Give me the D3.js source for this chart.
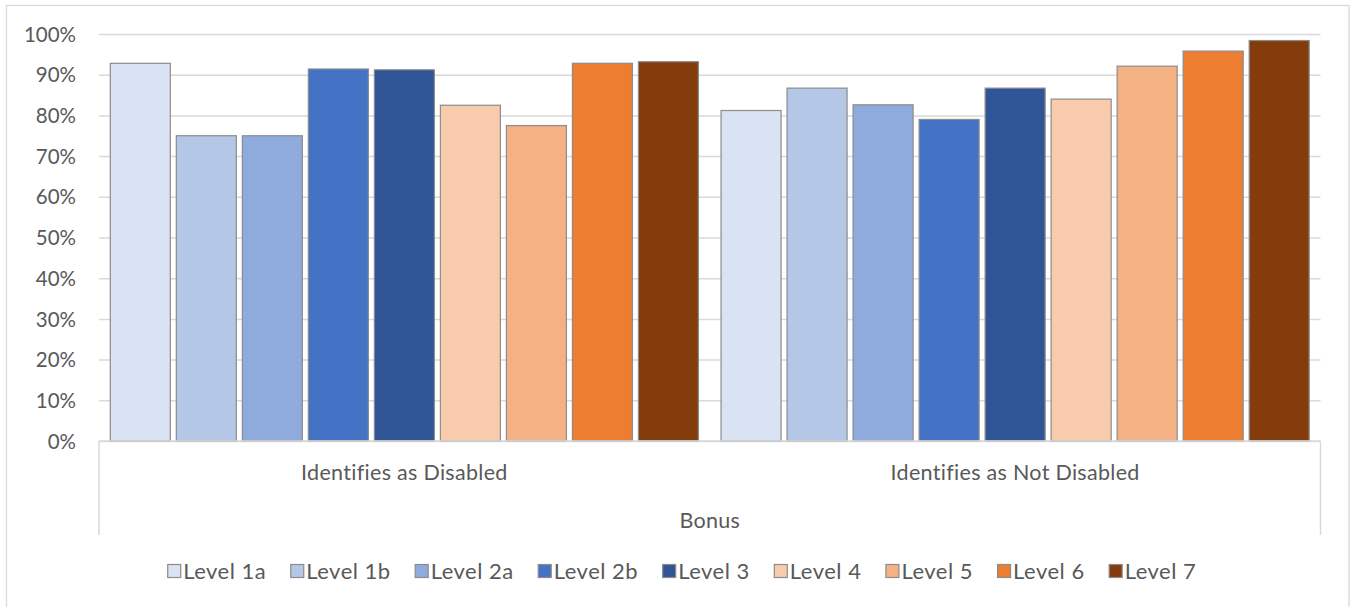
<!DOCTYPE html>
<html>
<head>
<meta charset="utf-8">
<script src="https://cdn.jsdelivr.net/npm/d3@7"></script>
<style>
  html, body { margin: 0; padding: 0; background: #fff; }
  svg { display: block; }
  text { font-family: Lato, "Open Sans", sans-serif; fill: #595959; }
</style>
</head>
<body>
<svg id="chart" width="1351" height="607"></svg>
<script>
// Share of respondents receiving a bonus, by level and disability status
const groups = ["Identifies as Disabled", "Identifies as Not Disabled"];
const levels = ["Level 1a", "Level 1b", "Level 2a", "Level 2b", "Level 3", "Level 4", "Level 5", "Level 6", "Level 7"];
const disabledValues    = [0.928, 0.750, 0.750, 0.914, 0.912, 0.825, 0.775, 0.928, 0.932];
const notDisabledValues = [0.812, 0.867, 0.826, 0.790, 0.867, 0.840, 0.921, 0.958, 0.984];
const levelColors = ["#DAE3F3", "#B4C7E7", "#8FAADC", "#4472C4", "#2F5597", "#F8CBAD", "#F4B183", "#ED7D31", "#843C0C"];
const yTicks = [0, 0.1, 0.2, 0.3, 0.4, 0.5, 0.6, 0.7, 0.8, 0.9, 1.0];
const axisTitle = "Bonus";

const seriesByGroup = [disabledValues, notDisabledValues];

const svg = d3.select("#chart");
const plot = { left: 99, right: 1320.5, top: 34, bottom: 441 };

// outer chart frame
svg.append("rect")
  .attr("x", 6.5).attr("y", 5.5)
  .attr("width", 1342.5).attr("height", 610)
  .attr("fill", "#fff").attr("stroke", "#d9d9d9").attr("stroke-width", 1.3);

const y = d3.scaleLinear().domain([0, 1]).range([plot.bottom, plot.top]);
const x0 = d3.scaleBand().domain(groups).range([plot.left, plot.right]).padding(0);
const inset = x0.bandwidth() * 0.0185;
const x1 = d3.scaleBand().domain(levels)
  .range([inset, x0.bandwidth() - inset])
  .paddingInner(0.0909).paddingOuter(0);

// gridlines and tick labels
const yAxis = d3.axisLeft(y).tickValues(yTicks)
  .tickSize(-(plot.right - plot.left)).tickPadding(23)
  .tickFormat(d3.format(".0%"));
const gy = svg.append("g").attr("transform", `translate(${plot.left},0)`).call(yAxis);
gy.select(".domain").remove();
gy.selectAll(".tick line").attr("stroke", "#d9d9d9").attr("stroke-width", 1.5);
gy.selectAll(".tick text")
  .attr("font-size", 20.5).attr("fill", "#595959")
  .attr("dy", "0.35em")
  .style("font-family", "Lato, sans-serif");

// bars
const gGroups = svg.append("g").selectAll("g").data(groups).join("g")
  .attr("transform", d => `translate(${x0(d)},0)`);
gGroups.selectAll("rect")
  .data((g, gi) => levels.map((lv, i) => ({ level: lv, value: seriesByGroup[gi][i], color: levelColors[i] })))
  .join("rect")
  .attr("x", d => x1(d.level))
  .attr("width", x1.bandwidth())
  .attr("y", d => y(d.value))
  .attr("height", d => y(0) - y(d.value))
  .attr("fill", d => d.color)
  .attr("stroke", "#8c8c8c").attr("stroke-width", 1.2);

// category axis box
const boxBottom = 535;
const axisPath = d3.path();
axisPath.moveTo(plot.left, plot.bottom); axisPath.lineTo(plot.right, plot.bottom);
axisPath.moveTo(plot.left, plot.bottom); axisPath.lineTo(plot.left, boxBottom);
axisPath.moveTo(plot.right, plot.bottom); axisPath.lineTo(plot.right, boxBottom);
svg.append("path").attr("d", axisPath.toString())
  .attr("fill", "none").attr("stroke", "#d9d9d9").attr("stroke-width", 1.5);

svg.append("g").selectAll("text").data(groups).join("text")
  .attr("x", d => x0(d) + x0.bandwidth() / 2)
  .attr("y", 480)
  .attr("text-anchor", "middle")
  .attr("font-size", 21.5)
  .attr("letter-spacing", 0.3)
  .text(d => d);

svg.append("text")
  .attr("x", (plot.left + plot.right) / 2)
  .attr("y", 528)
  .attr("text-anchor", "middle")
  .attr("font-size", 21.5)
  .attr("letter-spacing", 0.3)
  .text(axisTitle);

// legend
const legend = svg.append("g");
const items = legend.selectAll("g").data(levels).join("g");
items.append("rect")
  .attr("width", 13).attr("height", 13).attr("y", -6.5)
  .attr("fill", (d, i) => levelColors[i])
  .attr("stroke", "#8c8c8c").attr("stroke-width", 1.2);
items.append("text")
  .attr("x", 15.5).attr("dy", "0.35em")
  .attr("font-size", 22)
  .attr("letter-spacing", 0.5)
  .text(d => d);
let cursor = 0;
const gap = 24.5;
items.each(function () {
  const g = d3.select(this);
  g.attr("transform", `translate(${cursor},0)`);
  cursor += 15.5 + g.select("text").node().getComputedTextLength() + gap;
});
const legendWidth = cursor - gap;
legend.attr("transform", `translate(${682 - legendWidth / 2},571)`);
</script>
</body>
</html>
